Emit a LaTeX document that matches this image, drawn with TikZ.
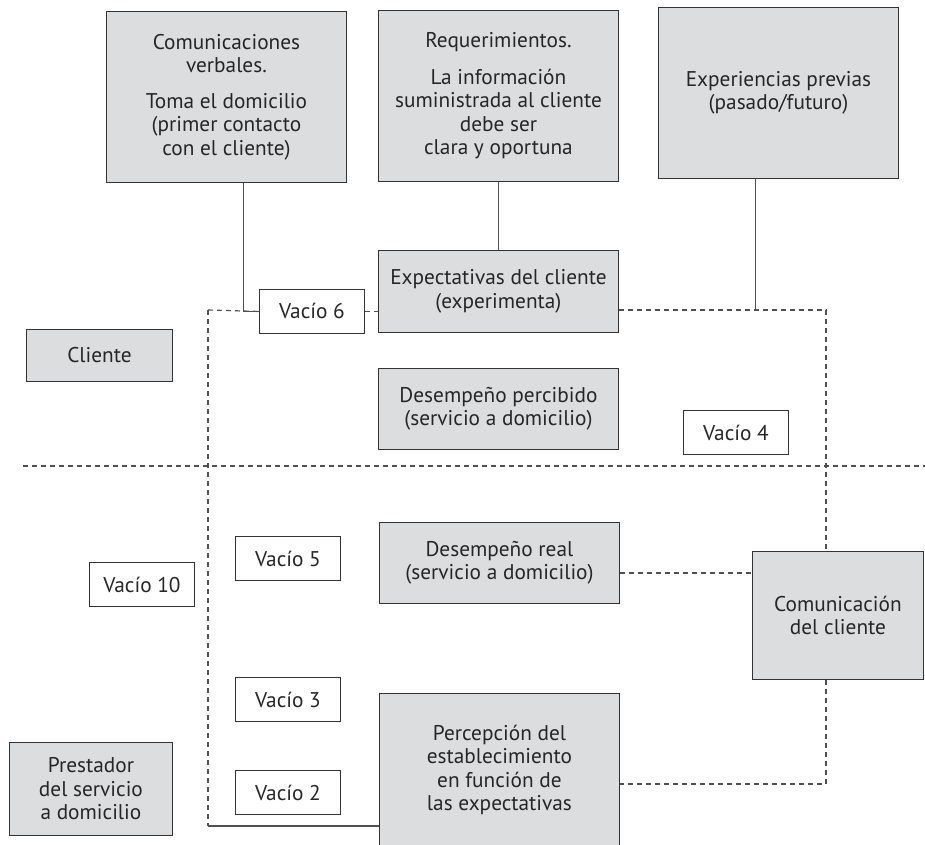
\documentclass[tikz,border=0pt]{standalone}
\usepackage{fontspec}
\setmainfont{PT Sans}
\usepackage{tikz}

\definecolor{boxgray}{HTML}{DCDDDF}
\definecolor{linegray}{HTML}{505050}

\begin{document}
\begin{tikzpicture}
  [x=1pt, y=-1pt,
    every node/.style={font=\fontsize{21.3}{23.5}\selectfont, text=black!85, align=center, inner sep=0pt, anchor=north west},
    bigbox/.style={rectangle, draw=black!80, line width=0.9pt, fill=boxgray, minimum width=240pt, minimum height=171pt},
    midbox/.style={rectangle, draw=black!80, line width=0.9pt, fill=boxgray, minimum width=240pt, minimum height=82pt},
    sidebox/.style={rectangle, draw=black!80, line width=0.9pt, fill=boxgray},
    vaciobox/.style={rectangle, draw=black!80, line width=0.9pt, fill=white, minimum width=105pt, minimum height=44pt},
    link/.style={draw=linegray, line width=1.2pt},
    dashlink/.style={draw=linegray, line width=1.2pt, dash pattern=on 5pt off 4pt}
  ]
  \clip (0,0) rectangle (925,844);

  % top row
  \path (106, 11) node[bigbox] (com) {Comunicaciones\\verbales.\\[12pt]Toma el domicilio\\(primer contacto\\con el cliente)}
        (378, 10) node[bigbox] (req) {Requerimientos.\\[13pt]La información\\suministrada al cliente\\debe ser\\clara y oportuna}
        (658,  7) node[bigbox] (exp) {Experiencias previas\\(pasado/futuro)};

  % middle column
  \path (378,250) node[midbox] (expc)  {Expectativas del cliente\\(experimenta)}
      ++(  0,118) node[midbox, minimum height=81pt] (dperc) {Desempeño percibido\\(servicio a domicilio)}
        (379,522) node[midbox, minimum height=81pt] (dreal) {Desempeño real\\(servicio a domicilio)}
        (379,693) node[midbox, minimum height=153pt] (perc) {Percepción del\\establecimiento\\en función de\\las expectativas};

  % sides
  \path (26,329)  node[sidebox, minimum width=146pt, minimum height=52pt] (cli)  {Cliente}
        (9,742)   node[sidebox, minimum width=163pt, minimum height=93pt] (prest) {Prestador\\del servicio\\a domicilio}
        (752,551) node[sidebox, minimum width=171pt, minimum height=128pt] (ccli) {Comunicación\\del cliente};

  % gaps
  \path (259,289) node[vaciobox] (v6)  {Vacío 6}
        (683,410) node[vaciobox] (v4)  {Vacío 4}
        (89,562)  node[vaciobox] (v10) {Vacío 10}
        (235,536) node[vaciobox] (v5)  {Vacío 5}
        ++(0,141) node[vaciobox] (v3)  {Vacío 3}
        ++(0, 93) node[vaciobox] (v2)  {Vacío 2};

  \coordinate (tl) at (208,310);
  \coordinate (tr) at (826,310);
  \coordinate (bl) at (208,826);
  \coordinate (br) at (826,784);
  \coordinate (divl) at (23,466);
  \coordinate (divr) at (925,466);

  % solid links
  \draw[link] ([xshift=17pt]com.south) |- (v6.west);
  \draw[link] (req.south) -- (expc.north);
  \draw[link] ([xshift=-23pt]exp.south) -- ([xshift=-23pt]exp.south |- tr);
  \draw[link] (bl) -- (bl -| perc.west);

  % dashed frame
  \draw[dashlink] (tl) -- (v6.west);
  \draw[dashlink] (v6.east) -- (v6.east -| expc.west);
  \draw[dashlink] (expc.east |- tr) -- (tr) -- (tr |- ccli.north);
  \draw[dashlink] (tr |- ccli.south) -- (br) -- (br -| perc.east);
  \draw[dashlink] ([yshift=-10pt]dreal.east) -- ([yshift=-10pt]dreal.east -| ccli.west);
  \draw[dashlink] (tl) -- (bl);
  \draw[dashlink] (divl) -- (divr);

\end{tikzpicture}
\end{document}
